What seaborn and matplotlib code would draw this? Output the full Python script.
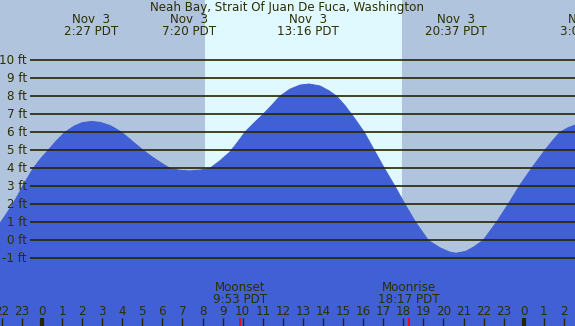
import matplotlib
matplotlib.use("Agg")
import matplotlib.pyplot as plt
import seaborn as sns
import pandas as pd

# ---- data ----
hours = [-2.09, -1.75, -1.46, -1.2, -0.96, -0.7, -0.43, -0.05, 0.31, 0.7, 1.15, 1.6,
         2.0, 2.45, 2.9, 3.4, 3.97, 4.5, 5.04, 5.5, 6.0, 6.37, 6.85, 7.33, 7.85, 8.37,
         8.85, 9.36, 9.75, 10.11, 10.55, 11.02, 11.45, 11.85, 12.35, 12.85, 13.3, 13.85,
         14.3, 14.68, 15.09, 15.55, 16.05, 16.55, 17.05, 17.58, 18.08, 18.61, 19.24,
         19.82, 20.32, 20.62, 21.1, 21.5, 21.98, 22.64, 23.22, 23.77, 24.39, 25.05,
         25.45, 25.8, 26.2, 26.55]
heights = [0.94, 1.5, 2.0, 2.5, 3.0, 3.5, 4.0, 4.55, 5.0, 5.5, 6.0, 6.34,
           6.53, 6.6, 6.55, 6.37, 6.0, 5.5, 5.0, 4.62, 4.25, 4.0, 3.89, 3.85, 3.89, 4.0,
           4.4, 4.9, 5.45, 6.0, 6.5, 7.0, 7.5, 8.0, 8.39, 8.62, 8.68, 8.57,
           8.3, 8.0, 7.48, 6.8, 6.0, 5.0, 4.0, 3.0, 2.0, 1.0, 0.0,
           -0.42, -0.66, -0.72, -0.62, -0.38, 0.0, 1.0, 2.0, 3.0, 4.0, 5.0,
           5.55, 6.0, 6.25, 6.4]

extreme_hours = [2.45, 7.33, 13.27, 20.62, 27.13]
extreme_dates = ["Nov  3", "Nov  3", "Nov  3", "Nov  3", "Nov  4"]
extreme_times = ["2:27 PDT", "7:20 PDT", "13:16 PDT", "20:37 PDT", "3:08 PDT"]

sunrise, sunset = 8.12, 17.93
moon_names = ["Moonset", "Moonrise"]
moon_hours = [9.883, 18.283]
moon_times = ["9:53 PDT", "18:17 PDT"]

grid_levels = list(range(-1, 11))
hour_ticks = list(range(-2, 27))
title = "Neah Bay, Strait Of Juan De Fuca, Washington"

# ---- styling ----
BG = "#B0C4DE"
DAY = "#E0F8FF"
WATER = "#4160D6"
INK = "#2E2E00"
LINE = "#262600"
FS = 8.6

sns.set_theme(style="white")
plt.rcParams["font.family"] = ["DejaVu Sans"]

fig = plt.figure(figsize=(5.75, 3.26), dpi=100)
ax = fig.add_axes([0, 0, 1, 1])
XMIN, XMAX = -2.09, 26.55
YMIN, YMAX = -4.76, 13.35
ax.set_xlim(XMIN, XMAX)
ax.set_ylim(YMIN, YMAX)
ax.set_facecolor(BG)
ax.axvspan(sunrise, sunset, color=DAY, lw=0, zorder=0)

df = pd.DataFrame({"hour": hours, "height": heights})
ax.fill_between(df["hour"], df["height"], YMIN - 1, color=WATER, lw=0, zorder=1)
sns.lineplot(data=df, x="hour", y="height", color=WATER, lw=0.8, ax=ax, zorder=2)

# grid lines and labels
ax.hlines(grid_levels, xmin=-0.62, xmax=XMAX, colors=LINE, lw=1.2, zorder=3)
for lv in grid_levels:
    ax.text(-0.75, lv, f"{lv} ft", ha="right", va="center", fontsize=FS, color=INK, zorder=4)

# hour ticks
for h in hour_ticks:
    ax.text(h, -3.97, str(h % 24), ha="center", va="center", fontsize=FS, color=INK, zorder=4)
    lw = 3 if h % 24 == 0 else 1
    ax.plot([h, h], [-4.33, YMIN], color=LINE, lw=lw, solid_capstyle="butt", zorder=4)

# moon events
for name, mh, mt in zip(moon_names, moon_hours, moon_times):
    ax.plot([mh, mh], [-4.33, YMIN], color="red", lw=1.3, solid_capstyle="butt", zorder=5)
    ax.text(mh, -2.61, name, ha="center", va="center", fontsize=FS, color=INK, zorder=4)
    ax.text(mh, -3.28, mt, ha="center", va="center", fontsize=FS, color=INK, zorder=4)

# tide extremes
for eh, ed, et in zip(extreme_hours, extreme_dates, extreme_times):
    ax.text(eh, 12.26, ed, ha="center", va="center", fontsize=FS, color=INK, zorder=4, clip_on=False)
    ax.text(eh, 11.59, et, ha="center", va="center", fontsize=FS, color=INK, zorder=4, clip_on=False)

fig.text(0.5, 1 - 7.5 / 326, title, ha="center", va="center", fontsize=FS, color=INK)

ax.set_xlabel("")
ax.set_ylabel("")
ax.set_xticks([])
ax.set_yticks([])
for s in ax.spines.values():
    s.set_visible(False)
legend = ax.get_legend()
if legend:
    legend.remove()

fig.savefig("out.png", dpi=100)
